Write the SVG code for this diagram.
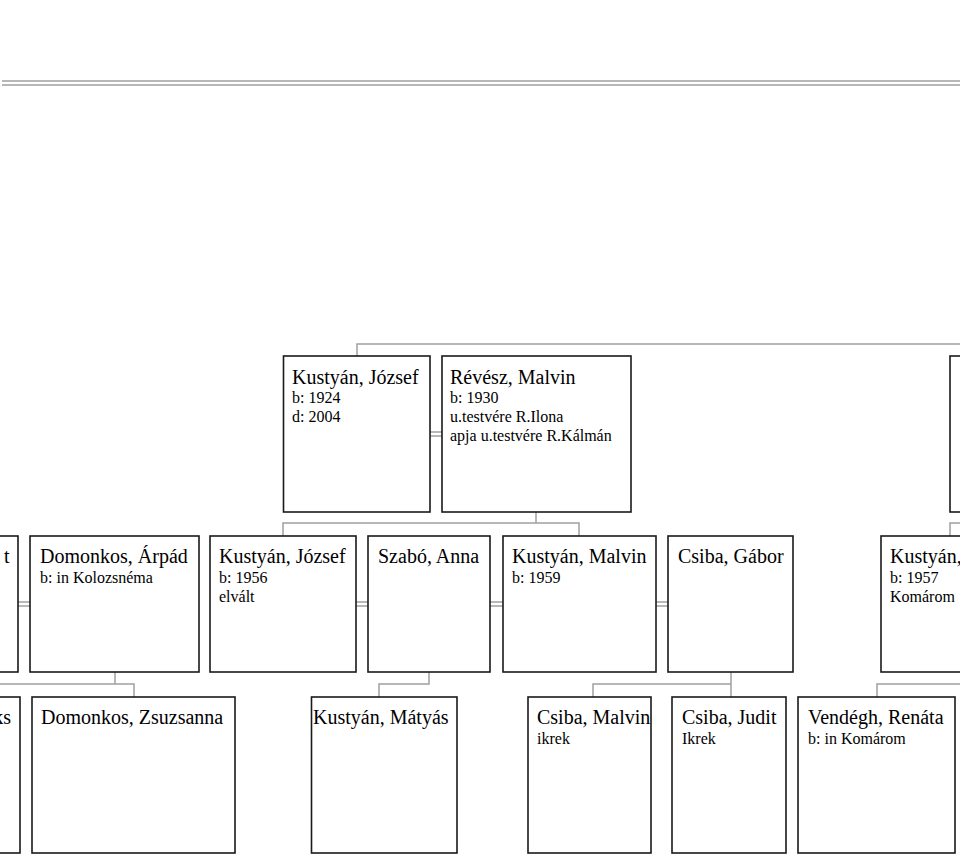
<svg xmlns="http://www.w3.org/2000/svg" width="960" height="856" viewBox="0 0 960 856">
<style>
.box{fill:#fff;stroke:#1a1a1a;stroke-width:1.6}
.c{fill:none;stroke:#a0a0a0;stroke-width:1.5}
.n{font-family:"Liberation Serif","Times New Roman",serif;font-size:20px;fill:#000}
.d{font-family:"Liberation Serif","Times New Roman",serif;font-size:16px;fill:#000}
</style>
<rect width="960" height="856" fill="#fff"/>
<g id="connectors">
<path class="c" d="M2 81H960M2 85H960"/>
<path class="c" d="M357 356V344H960"/>
<path class="c" d="M430 432H442M430 436H442"/>
<path class="c" d="M536 512V523M283 536V523H579V536"/>
<path class="c" d="M950 536V523H960"/>
<path class="c" d="M18 602H30M18 606H30"/>
<path class="c" d="M356 602H368M356 606H368"/>
<path class="c" d="M490 602H503M490 606H503"/>
<path class="c" d="M656 602H668M656 606H668"/>
<path class="c" d="M115 672V684M0 684H134V697"/>
<path class="c" d="M429 672V684H379V697"/>
<path class="c" d="M731 672V697M593 697V684H731"/>
<path class="c" d="M877 697V684H960"/>
</g>
<g id="n-kustyan-jozsef-1924">
<rect class="box" x="283.5" y="356" width="146.5" height="156"/>
<text class="n" x="292" y="384">Kustyán, József</text>
<text class="d" x="292" y="403">b: 1924</text>
<text class="d" x="292" y="422">d: 2004</text>
</g>
<g id="n-revesz-malvin">
<rect class="box" x="442" y="356" width="189" height="156"/>
<text class="n" x="450" y="384">Révész, Malvin</text>
<text class="d" x="450" y="403">b: 1930</text>
<text class="d" x="450" y="422">u.testvére R.Ilona</text>
<text class="d" x="450" y="441">apja u.testvére R.Kálmán</text>
</g>
<g id="n-top-right">
<rect class="box" x="950" y="356" width="120" height="156"/>
</g>
<g id="n-left-mid">
<rect class="box" x="-100" y="536" width="118" height="136"/>
<text class="n" x="9.5" y="563" text-anchor="end">t</text>
</g>
<g id="n-domonkos-arpad">
<rect class="box" x="30" y="536" width="169" height="136"/>
<text class="n" x="40" y="563">Domonkos, Árpád</text>
<text class="d" x="40" y="583">b: in Kolozsnéma</text>
</g>
<g id="n-kustyan-jozsef-1956">
<rect class="box" x="210" y="536" width="146" height="136"/>
<text class="n" x="219" y="563">Kustyán, József</text>
<text class="d" x="219" y="583">b: 1956</text>
<text class="d" x="219" y="602">elvált</text>
</g>
<g id="n-szabo-anna">
<rect class="box" x="368" y="536" width="122" height="136"/>
<text class="n" x="378" y="563">Szabó, Anna</text>
</g>
<g id="n-kustyan-malvin">
<rect class="box" x="503" y="536" width="153" height="136"/>
<text class="n" x="512" y="563">Kustyán, Malvin</text>
<text class="d" x="512" y="583">b: 1959</text>
</g>
<g id="n-csiba-gabor">
<rect class="box" x="668" y="536" width="125" height="136"/>
<text class="n" x="678" y="563">Csiba, Gábor</text>
</g>
<g id="n-kustyan-right">
<rect class="box" x="881" y="536" width="140" height="136"/>
<text class="n" x="890" y="563">Kustyán,</text>
<text class="d" x="890" y="583">b: 1957</text>
<text class="d" x="890" y="602">Komárom</text>
</g>
<g id="n-left-bottom">
<rect class="box" x="-100" y="697" width="120" height="156"/>
<text class="n" x="11" y="724" text-anchor="end">ks</text>
</g>
<g id="n-domonkos-zsuzsanna">
<rect class="box" x="32" y="697" width="203" height="156"/>
<text class="n" x="41" y="724">Domonkos, Zsuzsanna</text>
</g>
<g id="n-kustyan-matyas">
<rect class="box" x="311.5" y="697" width="145.5" height="156"/>
<text class="n" x="313" y="724">Kustyán, Mátyás</text>
</g>
<g id="n-csiba-malvin">
<rect class="box" x="528" y="697" width="123" height="156"/>
<text class="n" x="537" y="724">Csiba, Malvin</text>
<text class="d" x="537" y="744">ikrek</text>
</g>
<g id="n-csiba-judit">
<rect class="box" x="672" y="697" width="114" height="156"/>
<text class="n" x="682" y="724">Csiba, Judit</text>
<text class="d" x="682" y="744">Ikrek</text>
</g>
<g id="n-vendegh-renata">
<rect class="box" x="798" y="697" width="157" height="156"/>
<text class="n" x="808" y="724">Vendégh, Renáta</text>
<text class="d" x="808" y="744">b: in Komárom</text>
</g>
</svg>
